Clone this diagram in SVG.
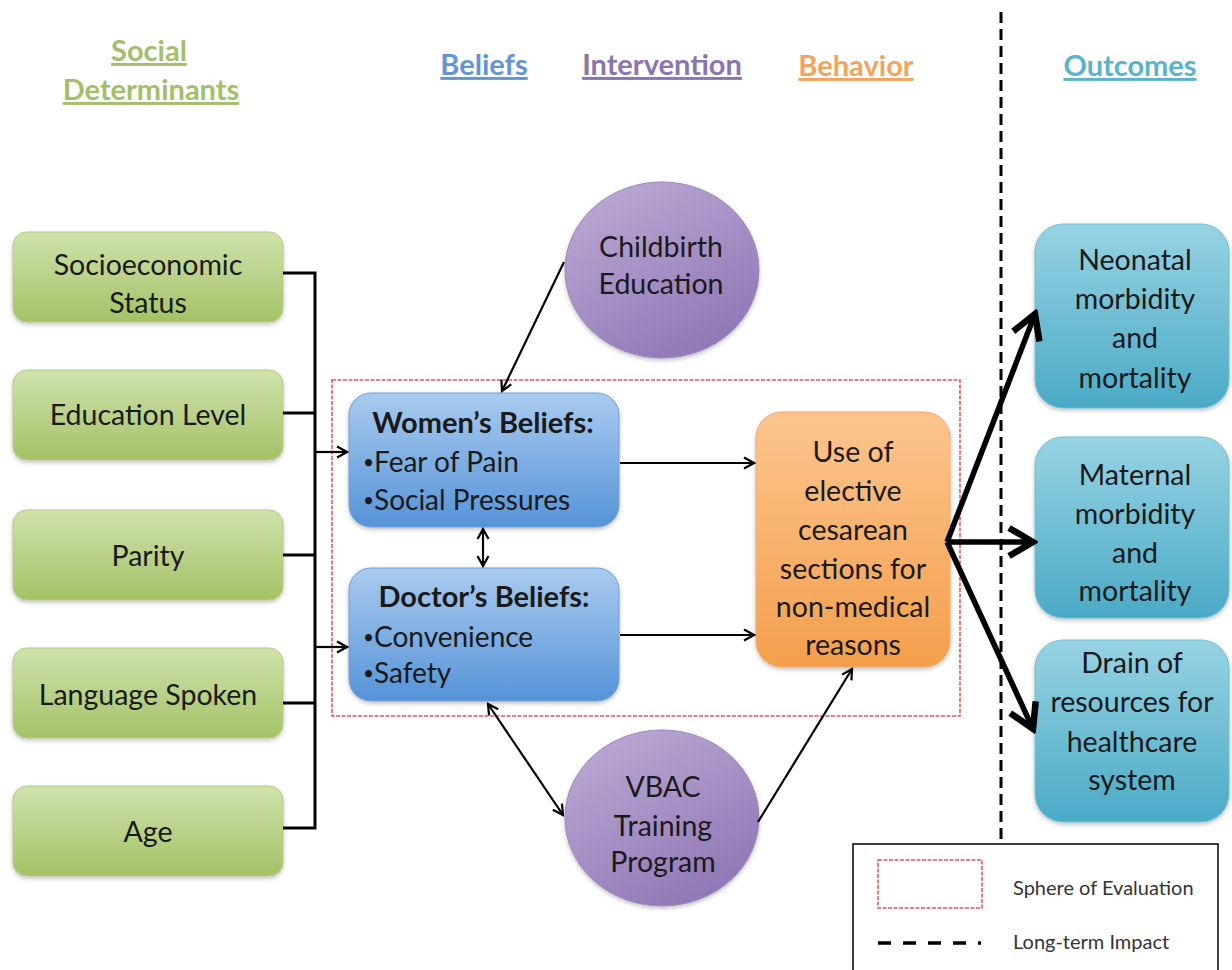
<svg xmlns="http://www.w3.org/2000/svg" width="1232" height="970" viewBox="0 0 1232 970">
  <defs>
    <linearGradient id="gGreen" x1="0" y1="0" x2="0" y2="1">
      <stop offset="0" stop-color="#cfe2ac"/>
      <stop offset="1" stop-color="#a3c266"/>
    </linearGradient>
    <linearGradient id="gBlue" x1="0" y1="0" x2="0" y2="1">
      <stop offset="0" stop-color="#a9cbef"/>
      <stop offset="1" stop-color="#5593d8"/>
    </linearGradient>
    <linearGradient id="gOrange" x1="0" y1="0" x2="0" y2="1">
      <stop offset="0" stop-color="#fcc58e"/>
      <stop offset="1" stop-color="#f49f4c"/>
    </linearGradient>
    <linearGradient id="gTeal" x1="0" y1="0" x2="0" y2="1">
      <stop offset="0" stop-color="#97d3e3"/>
      <stop offset="1" stop-color="#4aaac6"/>
    </linearGradient>
    <linearGradient id="gPurple" x1="0.2" y1="0" x2="0.8" y2="1">
      <stop offset="0" stop-color="#bba9d3"/>
      <stop offset="1" stop-color="#8e74b4"/>
    </linearGradient>
    <filter id="shadow" x="-10%" y="-10%" width="120%" height="125%">
      <feDropShadow dx="0" dy="2" stdDeviation="2" flood-color="#000" flood-opacity="0.25"/>
    </filter>
    <marker id="arrow" viewBox="0 0 14 14" markerUnits="userSpaceOnUse" markerWidth="14" markerHeight="14" refX="12" refY="7" orient="auto-start-reverse">
      <path d="M2,1.5 L12,7 L2,12.5" fill="none" stroke="#000" stroke-width="2.2"/>
    </marker>
    <marker id="arrowBold" viewBox="0 0 34 34" markerUnits="userSpaceOnUse" markerWidth="34" markerHeight="34" refX="29" refY="17" orient="auto">
      <path d="M5,3 L29,17 L5,31" fill="none" stroke="#000" stroke-width="6.5"/>
    </marker>
    <style>
      text { font-family: Lato, "Liberation Sans", sans-serif; fill: #1a1a1a; }
      .hdr { font-size: 29px; font-weight: bold; text-anchor: middle; text-decoration: underline; }
      .lbl { font-size: 28.5px; text-anchor: middle; }
      .item { font-size: 28px; }
      .dot { font-size: 19px; }
      .bold { font-size: 29px; font-weight: bold; text-anchor: middle; }
      .legend { font-size: 20px; fill: #333; }
      .green { fill: url(#gGreen); stroke: #b3cc85; stroke-width: 1; filter: url(#shadow); }
      .blue { fill: url(#gBlue); stroke: #6d9fd8; stroke-width: 1; filter: url(#shadow); }
      .orange { fill: url(#gOrange); stroke: #f2a964; stroke-width: 1; filter: url(#shadow); }
      .teal { fill: url(#gTeal); stroke: #6fbfd4; stroke-width: 1; filter: url(#shadow); }
      .purple { fill: url(#gPurple); stroke: #9c86bd; stroke-width: 1; filter: url(#shadow); }
      .line { fill: none; stroke: #000; stroke-width: 2.2; }
      .bracket { fill: none; stroke: #000; stroke-width: 3; }
      .bold-line { fill: none; stroke: #000; stroke-width: 5.5; }
      .sphere { fill: none; stroke: #e05a5a; stroke-width: 1.6; stroke-dasharray: 4 1.5; }
    </style>
  </defs>

  <rect width="1232" height="970" fill="#fff"/>

  <!-- column headings -->
  <g id="headings">
    <text class="hdr" x="149" y="61" style="fill:#a2c06a">Social</text>
    <text class="hdr" x="151" y="100" style="fill:#a2c06a">Determinants</text>
    <text class="hdr" x="484" y="75" style="fill:#6394d6">Beliefs</text>
    <text class="hdr" x="662" y="75" style="fill:#8a74b2">Intervention</text>
    <text class="hdr" x="856" y="76" style="fill:#f4a35c">Behavior</text>
    <text class="hdr" x="1130" y="76" style="fill:#5bb3cb">Outcomes</text>
  </g>

  <!-- long-term impact boundary -->
  <line x1="1001" y1="12" x2="1001" y2="844" stroke="#000" stroke-width="3" stroke-dasharray="11 6"/>

  <!-- sphere of evaluation -->
  <rect class="sphere" x="332" y="380" width="628" height="336"/>

  <!-- social determinants -->
  <g id="socioeconomic">
    <rect class="green" x="13" y="232" width="270" height="90" rx="14"/>
    <text class="lbl" x="148" y="275">Socioeconomic</text>
    <text class="lbl" x="148" y="313">Status</text>
  </g>
  <g id="education">
    <rect class="green" x="13" y="370" width="270" height="90" rx="14"/>
    <text class="lbl" x="148" y="425">Education Level</text>
  </g>
  <g id="parity">
    <rect class="green" x="13" y="510" width="270" height="90" rx="14"/>
    <text class="lbl" x="148" y="566">Parity</text>
  </g>
  <g id="language">
    <rect class="green" x="13" y="648" width="270" height="90" rx="14"/>
    <text class="lbl" x="148" y="705">Language Spoken</text>
  </g>
  <g id="age">
    <rect class="green" x="13" y="786" width="270" height="90" rx="14"/>
    <text class="lbl" x="148" y="842">Age</text>
  </g>

  <!-- beliefs -->
  <g id="womens-beliefs">
    <rect class="blue" x="349" y="393" width="270" height="134" rx="22"/>
    <text class="bold" x="483" y="433">Women’s Beliefs:</text>
    <text class="item" x="363" y="472"><tspan class="dot" dy="-3">•</tspan><tspan dy="3">Fear of Pain</tspan></text>
    <text class="item" x="363" y="510"><tspan class="dot" dy="-3">•</tspan><tspan dy="3">Social Pressures</tspan></text>
  </g>
  <g id="doctors-beliefs">
    <rect class="blue" x="349" y="568" width="270" height="133" rx="22"/>
    <text class="bold" x="484" y="607">Doctor’s Beliefs:</text>
    <text class="item" x="363" y="647"><tspan class="dot" dy="-3">•</tspan><tspan dy="3">Convenience</tspan></text>
    <text class="item" x="363" y="683"><tspan class="dot" dy="-3">•</tspan><tspan dy="3">Safety</tspan></text>
  </g>

  <!-- interventions -->
  <g id="childbirth-education">
    <ellipse class="purple" cx="662" cy="270" rx="97" ry="88"/>
    <text class="lbl" x="661" y="257">Childbirth</text>
    <text class="lbl" x="661" y="294">Education</text>
  </g>
  <g id="vbac-training">
    <ellipse class="purple" cx="662" cy="818" rx="97" ry="88"/>
    <text class="lbl" x="663" y="797">VBAC</text>
    <text class="lbl" x="663" y="836">Training</text>
    <text class="lbl" x="663" y="872">Program</text>
  </g>

  <!-- behavior -->
  <g id="elective-cesarean">
    <rect class="orange" x="756" y="412" width="194" height="255" rx="26"/>
    <text class="lbl" x="853" y="462">Use of</text>
    <text class="lbl" x="853" y="501">elective</text>
    <text class="lbl" x="853" y="540">cesarean</text>
    <text class="lbl" x="853" y="579">sections for</text>
    <text class="lbl" x="853" y="617">non-medical</text>
    <text class="lbl" x="853" y="655">reasons</text>
  </g>

  <!-- outcomes -->
  <g id="neonatal">
    <rect class="teal" x="1035" y="224" width="194" height="184" rx="28"/>
    <text class="lbl" x="1135" y="270">Neonatal</text>
    <text class="lbl" x="1135" y="309">morbidity</text>
    <text class="lbl" x="1135" y="348">and</text>
    <text class="lbl" x="1135" y="388">mortality</text>
  </g>
  <g id="maternal">
    <rect class="teal" x="1035" y="437" width="194" height="181" rx="28"/>
    <text class="lbl" x="1135" y="485">Maternal</text>
    <text class="lbl" x="1135" y="524">morbidity</text>
    <text class="lbl" x="1135" y="563">and</text>
    <text class="lbl" x="1135" y="601">mortality</text>
  </g>
  <g id="resource-drain">
    <rect class="teal" x="1035" y="640" width="194" height="182" rx="28"/>
    <text class="lbl" x="1132" y="673">Drain of</text>
    <text class="lbl" x="1132" y="712">resources for</text>
    <text class="lbl" x="1132" y="752">healthcare</text>
    <text class="lbl" x="1132" y="790">system</text>
  </g>

  <!-- connectors -->
  <g id="connectors">
    <path class="bracket" d="M283,273 H315 M283,413 H315 M283,555 H315 M283,703 H315 M283,828 H315 M315,271.5 V829.5"/>
    <line class="line" x1="315" y1="452" x2="347" y2="452" marker-end="url(#arrow)"/>
    <line class="line" x1="315" y1="647" x2="347" y2="647" marker-end="url(#arrow)"/>
    <line class="line" x1="483" y1="529" x2="483" y2="566" marker-start="url(#arrow)" marker-end="url(#arrow)"/>
    <line class="line" x1="620" y1="463" x2="754" y2="463" marker-end="url(#arrow)"/>
    <line class="line" x1="620" y1="635" x2="754" y2="635" marker-end="url(#arrow)"/>
    <line class="line" x1="564" y1="262" x2="502" y2="391" marker-end="url(#arrow)"/>
    <line class="line" x1="488" y1="704" x2="563" y2="815" marker-start="url(#arrow)" marker-end="url(#arrow)"/>
    <line class="line" x1="758" y1="822" x2="852" y2="669" marker-end="url(#arrow)"/>
    <line class="bold-line" x1="947" y1="542" x2="1035" y2="314" marker-end="url(#arrowBold)"/>
    <line class="bold-line" x1="947" y1="542" x2="1033" y2="542" marker-end="url(#arrowBold)"/>
    <line class="bold-line" x1="947" y1="542" x2="1033" y2="729" marker-end="url(#arrowBold)"/>
  </g>

  <!-- legend -->
  <g id="legend">
    <rect x="853" y="844" width="365" height="140" fill="#fff" stroke="#000" stroke-width="1.5"/>
    <rect class="sphere" x="878" y="860" width="104" height="48"/>
    <text class="legend" x="1013" y="895">Sphere of Evaluation</text>
    <line x1="878" y1="943" x2="981" y2="943" stroke="#000" stroke-width="3.5" stroke-dasharray="13 12"/>
    <text class="legend" x="1013" y="949">Long-term Impact</text>
  </g>
</svg>
